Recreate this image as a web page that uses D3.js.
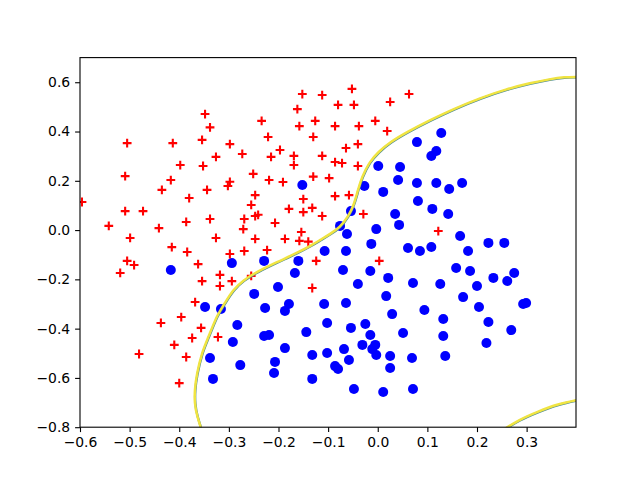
<!DOCTYPE html>
<html lang="en">
<head>
  <meta charset="utf-8">
  <script src="https://d3js.org/d3.v7.min.js"></script>
  <title>Decision boundary</title>
  <style>
    html, body { margin: 0; padding: 0; background: #fff; }
    svg { display: block; }
    .tick text { font-family: "DejaVu Sans", sans-serif; font-size: 13.9px; fill: #000; }
    .tick line { stroke: #000; stroke-width: 1.1px; }
    .domain { display: none; }
  </style>
</head>
<body>
<svg id="chart" width="640" height="480"></svg>
<script>
// red crosses, class 0
const crossX = [-0.152,-0.112,-0.162,-0.348,-0.234,-0.126,-0.338,-0.158,-0.505,-0.413,-0.354,-0.298,-0.221,-0.130,-0.273,-0.197,-0.326,-0.215,-0.169,-0.112,
  -0.398,-0.352,-0.169,-0.251,-0.509,-0.130,-0.098,-0.417,-0.298,-0.302,-0.219,-0.191,-0.435,-0.344,-0.247,-0.380,-0.150,-0.596,-0.255,-0.132,
  -0.179,-0.150,-0.509,-0.473,-0.247,-0.241,-0.112,-0.269,-0.338,-0.386,-0.207,-0.542,-0.441,-0.271,-0.154,-0.499,-0.326,-0.247,-0.187,-0.158,
  -0.140,-0.415,-0.384,-0.298,-0.269,-0.223,-0.505,-0.491,-0.519,-0.362,-0.124,-0.318,-0.354,-0.294,-0.318,-0.255,-0.132,-0.368,-0.437,-0.396,
  -0.356,-0.374,-0.322,-0.410,-0.386,-0.481,-0.400,-0.052,-0.080,-0.048,0.025,0.063,-0.086,-0.038,-0.005,0.019,-0.064,-0.040,-0.086,-0.072,
  -0.040,-0.086,-0.058,-0.029,0.122,0.003];
const crossY = [0.552,0.548,0.491,0.471,0.443,0.443,0.417,0.422,0.353,0.353,0.366,0.349,0.378,0.378,0.309,0.325,0.297,0.297,0.301,0.301,
  0.264,0.260,0.264,0.228,0.219,0.217,0.211,0.203,0.196,0.179,0.203,0.195,0.163,0.163,0.142,0.130,0.126,0.114,0.102,0.090,
  0.086,0.073,0.077,0.077,0.057,0.062,0.057,0.045,0.045,0.033,0.029,0.017,0.008,0.004,-0.008,-0.032,-0.032,-0.036,-0.036,-0.044,
  -0.047,-0.069,-0.089,-0.097,-0.085,-0.081,-0.125,-0.142,-0.174,-0.138,-0.125,-0.182,-0.207,-0.207,-0.227,-0.186,-0.235,-0.292,-0.377,-0.353,
  -0.397,-0.438,-0.434,-0.466,-0.515,-0.503,-0.621,0.573,0.508,0.508,0.520,0.552,0.422,0.422,0.443,0.402,0.333,0.349,0.276,0.272,
  0.260,0.138,0.142,0.065,-0.004,-0.125];

// blue dots, class 1
const dotX = [-0.152,-0.107,-0.294,-0.229,-0.160,-0.417,-0.167,-0.201,-0.249,-0.179,-0.187,-0.227,-0.108,-0.348,-0.316,-0.283,-0.102,-0.144,-0.229,-0.219,
  -0.292,-0.187,-0.102,-0.132,-0.338,-0.207,-0.277,-0.209,-0.332,-0.132,0.128,0.079,0.118,0.108,0.001,0.045,0.041,-0.027,0.079,0.118,
  0.144,0.170,0.011,0.081,0.110,0.142,0.035,-0.054,0.043,-0.076,-0.003,-0.062,0.166,0.223,0.255,-0.013,0.061,0.085,0.108,0.182,
  -0.064,-0.070,-0.015,0.021,-0.040,0.071,0.126,0.158,0.186,0.233,0.275,0.261,0.200,0.172,0.017,-0.064,0.204,0.293,0.299,0.029,
  0.094,0.132,0.223,-0.025,-0.054,-0.015,0.051,0.132,0.269,0.219,-0.031,-0.005,-0.011,-0.068,-0.003,0.025,0.069,0.136,-0.058,-0.086,
  -0.080,0.025,-0.048,0.011,0.071];
const dotY = [0.183,-0.085,-0.134,-0.125,-0.125,-0.162,-0.174,-0.231,-0.259,-0.300,-0.328,-0.316,-0.300,-0.312,-0.320,-0.385,-0.377,-0.414,-0.430,-0.426,
  -0.454,-0.479,-0.499,-0.507,-0.519,-0.535,-0.548,-0.580,-0.604,-0.604,0.394,0.357,0.321,0.301,0.260,0.256,0.203,0.179,0.191,0.191,
  0.167,0.191,0.155,0.118,0.086,0.065,0.065,0.077,0.021,0.017,0.004,-0.016,-0.024,-0.052,-0.052,-0.056,-0.073,-0.085,-0.069,-0.085,
  -0.085,-0.162,-0.166,-0.194,-0.219,-0.215,-0.219,-0.154,-0.166,-0.194,-0.174,-0.207,-0.227,-0.272,-0.268,-0.296,-0.312,-0.300,-0.296,-0.341,
  -0.324,-0.361,-0.373,-0.381,-0.397,-0.426,-0.418,-0.430,-0.406,-0.458,-0.466,-0.466,-0.483,-0.483,-0.507,-0.511,-0.519,-0.511,-0.527,-0.552,
  -0.564,-0.560,-0.645,-0.657,-0.645];

// boundary, main branch and the piece in the lower right corner
const boundaryX = [-0.352,-0.365,-0.369,-0.369,-0.365,-0.355,-0.341,-0.324,-0.308,-0.292,-0.271,-0.244,-0.203,-0.163,-0.133,-0.116,-0.096,-0.076,-0.060,-0.048,
  -0.040,-0.032,-0.017,0.001,0.025,0.059,0.106,0.152,0.206,0.261,0.307,0.348,0.374,0.410];
const boundaryY = [-0.830,-0.750,-0.702,-0.649,-0.588,-0.499,-0.434,-0.345,-0.296,-0.243,-0.203,-0.170,-0.130,-0.093,-0.061,-0.040,-0.016,0.012,0.053,0.102,
  0.163,0.215,0.276,0.317,0.357,0.398,0.447,0.491,0.536,0.573,0.597,0.613,0.621,0.622];
const cornerX = [0.245,0.287,0.321,0.362,0.410];
const cornerY = [-0.820,-0.767,-0.738,-0.706,-0.686];

const xTicks = [-0.6,-0.5,-0.4,-0.3,-0.2,-0.1,0.0,0.1,0.2,0.3];
const yTicks = [-0.8,-0.6,-0.4,-0.2,0.0,0.2,0.4,0.6];

const svg = d3.select("#chart");
const width = +svg.attr("width");
const height = +svg.attr("height");
const margin = { top: 57.6, right: 64, bottom: 52.8, left: 80 };

const x = d3.scaleLinear().domain([-0.6, 0.3995]).range([margin.left, width - margin.right]);
const y = d3.scaleLinear().domain([-0.8, 0.7]).range([height - margin.bottom, margin.top]);

svg.append("rect").attr("width", width).attr("height", height).attr("fill", "#fff");

svg.append("clipPath").attr("id", "plot")
  .append("rect")
  .attr("x", margin.left).attr("y", margin.top)
  .attr("width", width - margin.left - margin.right)
  .attr("height", height - margin.top - margin.bottom);

const plot = svg.append("g").attr("clip-path", "url(#plot)");

// blue points first, red ones on top of them
plot.append("g").selectAll("circle")
  .data(dotX.map((d, i) => [d, dotY[i]]))
  .join("circle")
  .attr("cx", d => x(d[0]))
  .attr("cy", d => y(d[1]))
  .attr("r", 5)
  .attr("fill", "#0000ff");

plot.append("g").selectAll("path")
  .data(crossX.map((d, i) => [d, crossY[i]]))
  .join("path")
  .attr("transform", d => `translate(${x(d[0])},${y(d[1])})`)
  .attr("d", "M-4.4,0H4.4M0,-4.4V4.4")
  .attr("fill", "none")
  .attr("stroke", "#ff0000")
  .attr("stroke-width", 2.1);

const line = d3.line()
  .x(d => x(d[0]))
  .y(d => y(d[1]))
  .curve(d3.curveBasis);

const branches = [
  boundaryX.map((d, i) => [d, boundaryY[i]]),
  cornerX.map((d, i) => [d, cornerY[i]])
];

// stacked contour levels: the dark one only shows as a thin edge under the yellow
plot.append("g").attr("transform", "translate(0.4,0.5)").selectAll("path")
  .data(branches)
  .join("path")
  .attr("d", line)
  .attr("fill", "none")
  .attr("stroke", "#4a8a96")
  .attr("stroke-width", 2.4);

plot.append("g").selectAll("path")
  .data(branches)
  .join("path")
  .attr("d", line)
  .attr("fill", "none")
  .attr("stroke", "#f0e442")
  .attr("stroke-width", 2.5);

svg.append("g")
  .attr("transform", `translate(0,${height - margin.bottom})`)
  .call(d3.axisBottom(x).tickValues(xTicks).tickSize(4.9).tickPadding(4.9).tickFormat(d3.format(".1f")));

svg.append("g")
  .attr("transform", `translate(${margin.left},0)`)
  .call(d3.axisLeft(y).tickValues(yTicks).tickSize(4.9).tickPadding(4.9).tickFormat(d3.format(".1f")));

svg.append("rect")
  .attr("x", margin.left).attr("y", margin.top)
  .attr("width", width - margin.left - margin.right)
  .attr("height", height - margin.top - margin.bottom)
  .attr("fill", "none")
  .attr("stroke", "#000")
  .attr("stroke-width", 1.1);
</script>
</body>
</html>
